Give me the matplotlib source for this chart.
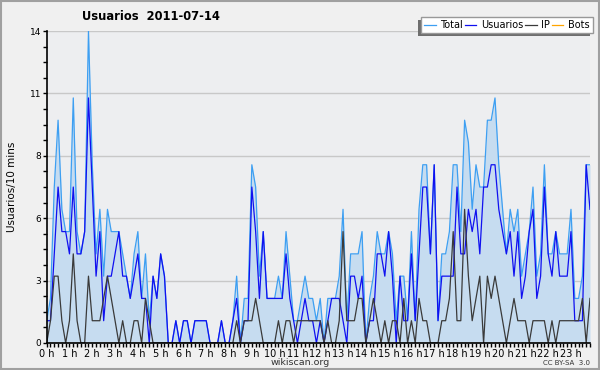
import numpy as np
import matplotlib
matplotlib.use('Agg')
from matplotlib import pyplot as plt
from matplotlib.patches import Rectangle

# 10-minute slots, 2011-07-14
usuarios = [1,1,4,7,5,5,4,7,4,4,5,11,7,3,5,1,3,3,4,5,3,3,2,3,4,2,2,
            0,3,2,4,3,0,0,1,0,1,1,0,1,1,1,1,0,0,0,1,0,0,1,2,0,1,1,7,5,
            2,5,2,2,2,2,2,4,2,1,0,1,2,1,1,0,1,0,1,2,2,2,1,0,3,3,2,3,0,
            1,1,4,4,3,5,3,0,3,1,1,4,1,4,7,7,4,8,1,3,3,3,3,7,4,4,6,
            5,6,4,7,7,8,8,6,5,4,5,3,5,2,3,5,6,2,3,7,4,3,5,3,3,3,5,1,1,1,8,6]
ip = [0,1,3,3,1,0,1,4,1,0,0,3,1,1,1,2,3,2,1,0,1,0,0,1,1,0,2,
      1,0,0,0,0,0,0,0,0,0,0,0,0,0,0,0,0,0,0,0,0,0,0,1,0,1,1,1,2,
      1,0,0,0,0,1,0,1,1,0,1,1,1,1,1,1,1,0,1,0,0,1,5,1,1,1,2,2,0,
      1,2,1,0,1,0,1,1,0,2,0,1,0,2,1,1,0,0,0,1,1,2,5,1,1,6,3,
      1,2,3,0,3,2,3,2,1,0,1,2,1,1,1,0,1,1,1,1,0,1,0,1,1,1,1,1,1,2,0,2]
total = [1,2,7,10,6,5,5,11,5,4,5,14,8,4,6,3,6,5,5,5,4,3,2,4,5,2,4,
         1,3,2,4,3,0,0,1,0,1,1,0,1,1,1,1,0,0,0,1,0,0,1,3,0,2,2,8,7,
         3,5,2,2,2,3,2,5,3,1,1,2,3,2,2,1,2,0,2,2,2,3,6,1,4,4,4,5,0,
         2,3,5,4,4,5,4,1,3,3,1,5,1,6,8,8,4,8,1,4,4,5,8,8,5,10,9,
         6,8,7,7,10,10,11,8,6,4,6,5,6,3,4,5,7,3,4,8,4,4,5,4,4,4,6,2,2,3,8,8]
bots = [0] * 144

hours = [str(h) + ' h' for h in range(24)]
ytick_labels = ['0', '3', '6', '8', '11', '14']

x = np.arange(len(total))

fig = plt.figure(figsize=(6, 3.7), dpi=100)
fig.patch.set_facecolor('#f0f0f0')
ax = fig.add_axes([0.0778, 0.073, 0.9055, 0.843])
ax.set_facecolor('#edeef0')

ax.fill_between(x, total, 0, color='#c6dcf0', lw=0, zorder=1)
ax.plot(x, bots, color='#ffa500', lw=0.9, zorder=2, label='Bots')
ax.plot(x, total, color='#3d9ff2', lw=0.9, zorder=3, label='Total')
ax.plot(x, usuarios, color='#1010f0', lw=0.9, zorder=4, label='Usuarios')
ax.plot(x, ip, color='#3a3a3a', lw=0.9, zorder=5, label='IP')

ax.set_xlim(0, 143)
ax.set_ylim(0, 14)
ax.set_yticks(np.linspace(0, 14, 6))
ax.set_yticklabels(ytick_labels)
ax.set_yticks(np.arange(0, 14.01, 0.7), minor=True)
ax.set_xticks(np.arange(0, 144, 6))
ax.set_xticklabels(hours)
ax.set_xticks(np.arange(0, 144, 1), minor=True)
ax.tick_params(axis='both', which='both', length=3, width=1, color='black',
               labelsize=7, pad=1)
ax.tick_params(axis='y', labelsize=6.5)
ax.grid(axis='y', which='major', color='#c8c8c8', lw=1)
ax.set_axisbelow(True)
for s in ['top', 'right']:
    ax.spines[s].set_visible(False)
for s in ['left', 'bottom']:
    ax.spines[s].set_linewidth(1.2)
    ax.spines[s].set_zorder(6)

ax.set_ylabel('Usuarios/10 mins', fontsize=7.5, labelpad=9)
fig.text(0.252, 0.956, 'Usuarios  2011-07-14', fontsize=8.3, fontweight='bold',
         ha='center', va='center')

h, l = ax.get_legend_handles_labels()
order = [1, 2, 3, 0]
leg = fig.legend([h[i] for i in order], [l[i] for i in order], ncol=4,
                 loc='upper right', bbox_to_anchor=(0.988, 0.953),
                 fontsize=7, frameon=True, fancybox=False, framealpha=1,
                 handlelength=1.2, handletextpad=0.5, columnspacing=0.15,
                 borderpad=0.3, borderaxespad=0)
leg.get_frame().set_edgecolor('#999999')
leg.get_frame().set_facecolor('white')
leg.get_frame().set_linewidth(1)
leg.set_zorder(10)

fig.canvas.draw()
bb = leg.get_window_extent().transformed(fig.transFigure.inverted())
fig.patches.append(Rectangle((bb.x0 - 3 / 600, bb.y0 - 3 / 370), bb.width, bb.height,
                             transform=fig.transFigure, facecolor='#6e6e6e',
                             edgecolor='none', zorder=9))

fig.text(0.5, 0.02, 'wikiscan.org', fontsize=6.8, ha='center', va='center',
         color='#333333')
fig.text(0.983, 0.02, 'CC BY-SA  3.0', fontsize=5, ha='right', va='center',
         color='#333333')
fig.patches.append(Rectangle((0.001, 0.002), 0.997, 0.996, transform=fig.transFigure,
                             facecolor='none', edgecolor='#a0a0a0', lw=1.5))

plt.savefig('out.png', dpi=100, facecolor=fig.get_facecolor())
